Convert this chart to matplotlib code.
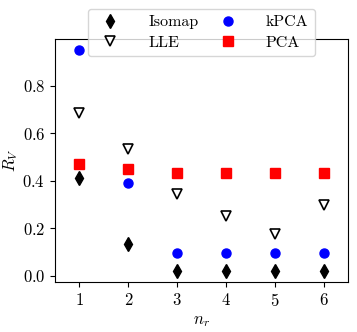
import numpy as np
import matplotlib
matplotlib.use("Agg")
import matplotlib.pyplot as plt

plt.rcParams['font.family'] = 'serif'
plt.rcParams['font.serif'] = ['cmr10', 'DejaVu Serif']
plt.rcParams['mathtext.fontset'] = 'cm'
plt.rcParams['axes.formatter.use_mathtext'] = True

n_r = np.array([1, 2, 3, 4, 5, 6])
isomap = np.array([0.412, 0.131, 0.02, 0.02, 0.02, 0.02])
lle = np.array([0.687, 0.534, 0.342, 0.252, 0.177, 0.296])
kpca = np.array([0.951, 0.391, 0.096, 0.096, 0.096, 0.096])
pca = np.array([0.472, 0.448, 0.431, 0.431, 0.431, 0.431])

fig = plt.figure(figsize=(3.57, 3.32), dpi=100)
ax = fig.add_axes([0.154, 0.151, 0.821, 0.732])

ax.plot(n_r, isomap, 'd', color='black', markersize=7, label='Isomap')
ax.plot(n_r, lle, 'v', markerfacecolor='white', markeredgecolor='black',
        markeredgewidth=1.2, markersize=6.5, label='LLE')
ax.plot(n_r, kpca, 'o', color='blue', markersize=6.5, label='kPCA')
ax.plot(n_r, pca, 's', color='red', markersize=6.5, label='PCA')

ax.set_xlim(0.5, 6.5)
ax.set_xticks(n_r)
ax.set_yticks([0.0, 0.2, 0.4, 0.6, 0.8])
ax.set_xlabel(r'$n_r$', fontsize=12)
ax.set_ylabel(r'$R_V$', fontsize=12, labelpad=2)
ax.tick_params(labelsize=12)

ax.legend(loc='upper center', bbox_to_anchor=(0.5, 1.156), ncol=2,
          fontsize=11.5, handletextpad=1.4, columnspacing=0.8,
          labelspacing=0.4)

fig.savefig('out.png', dpi=100)
